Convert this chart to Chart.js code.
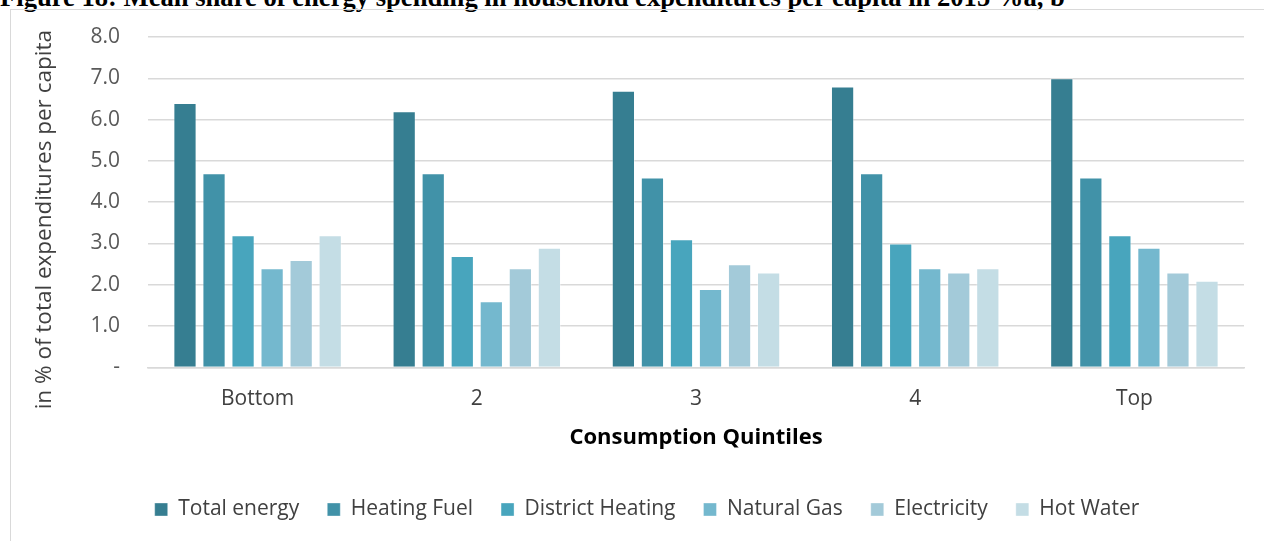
<!DOCTYPE html>
<html>
<head>
<meta charset="utf-8">
<script src="https://cdn.jsdelivr.net/npm/chart.js@4"></script>
<style>
body{margin:0;background:#fff;overflow:hidden;}
#title{position:absolute;left:0;top:-16px;font:bold 26.6px/26px "Liberation Serif";color:#000;white-space:nowrap;}
#frame{position:absolute;left:10px;top:9px;width:1400px;height:600px;border:1px solid #d9d9d9;}
#wrap{position:absolute;left:0;top:0;width:1264px;height:541px;}
</style>
</head>
<body>
<div id="title">Figure 18: Mean share of energy spending in household expenditures per capita in 2015 %a, b</div>
<div id="frame"></div>
<div id="wrap"><canvas id="chart" width="1264" height="541"></canvas></div>
<script>

const quintiles = ["Bottom","2","3","4","Top"]

const totalEnergy = [6.4,6.2,6.7,6.8,7.0]
const heatingFuel = [4.7,4.7,4.6,4.7,4.6]
const districtHeating = [3.2,2.7,3.1,3.0,3.2]
const naturalGas = [2.4,1.6,1.9,2.4,2.9]
const electricity = [2.6,2.4,2.5,2.3,2.3]
const hotWater = [3.2,2.9,2.3,2.4,2.1]

const seriesNames = ["Total energy","Heating Fuel","District Heating","Natural Gas","Electricity","Hot Water"]
const seriesColors = ["#367e91","#4192a8","#48a5bd","#74b8ce","#a3cad9","#c4dde5"]
const seriesData = [totalEnergy,heatingFuel,districtHeating,naturalGas,electricity,hotWater]

// nudge legend a bit right, like the original
const legendShift = {
id:"legendShift",
afterLayout(c){
c.legend.left += 10
c.legend.right += 10
}
}

const ctx = document.getElementById("chart")

const chart = new Chart(ctx,{
type:"bar",
data:{
labels:quintiles,
datasets:seriesNames.map((name,i)=>({
label:name,
data:seriesData[i],
backgroundColor:seriesColors[i],
borderColor:"rgba(255,255,255,0.35)",
borderWidth:1,
categoryPercentage:0.795,
barPercentage:0.8
}))
},
options:{
responsive:false,
animation:false,
layout:{padding:{left:30,right:20,top:37,bottom:11}},
plugins:{
legend:{
position:"bottom",
labels:{
boxWidth:13,
boxHeight:13,
padding:28,
color:"#404040",
font:{family:"Open Sans",size:21}
}
},
tooltip:{enabled:false}
},
scales:{
y:{
min:0,
max:8,
ticks:{
stepSize:1,
padding:28,
color:"#595959",
font:{family:"Open Sans",size:21},
callback:v=>v===0?"-":v.toFixed(1)
},
grid:{color:"#d9d9d9",lineWidth:1.5,drawTicks:false},
border:{display:false},
title:{
display:true,
// trailing spaces push the text down a little, as in the original
text:"in % of total expenditures per capita      ",
color:"#404040",
font:{family:"Open Sans",size:22.5},
padding:{top:1,bottom:0}
},
afterFit:s=>{
s.width=118
s.paddingTop=0
s.paddingBottom=0
}
},
x:{
ticks:{
padding:11,
color:"#404040",
font:{family:"Open Sans",size:21}
},
grid:{display:false},
border:{color:"#d9d9d9",width:1.5},
title:{
display:true,
text:"Consumption Quintiles",
color:"#000",
font:{family:"Open Sans",size:22,weight:"bold"},
padding:{top:2,bottom:20}
}
}
}
},
plugins:[legendShift]
})

</script>
</body>
</html>
